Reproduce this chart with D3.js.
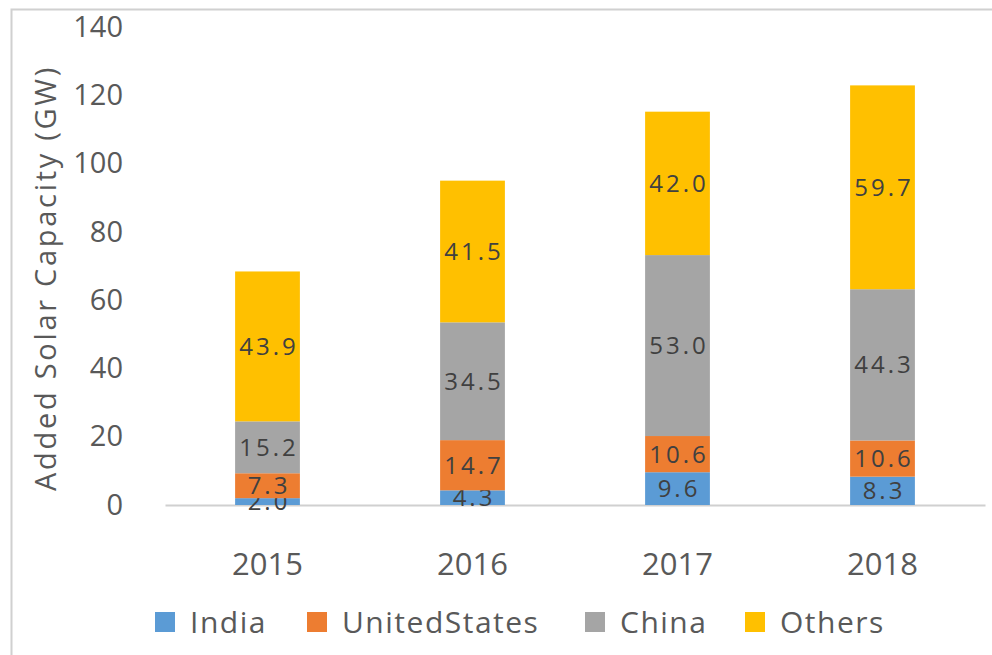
<!DOCTYPE html>
<html>
<head>
<meta charset="utf-8">
<script src="https://cdn.jsdelivr.net/npm/d3@7"></script>
<style>
  body { margin: 0; background: #fff; }
  text { font-family: "Open Sans", "Noto Sans", sans-serif; }
</style>
</head>
<body>
<div id="chart-area"></div>
<script>
// data
var years = ["2015", "2016", "2017", "2018"];
var seriesNames = ["India", "UnitedStates", "China", "Others"];
var india = [2.0, 4.3, 9.6, 8.3];
var unitedStates = [7.3, 14.7, 10.6, 10.6];
var china = [15.2, 34.5, 53.0, 44.3];
var others = [43.9, 41.5, 42.0, 59.7];
var yTicks = [0, 20, 40, 60, 80, 100, 120, 140];
var colors = ["#5b9bd5", "#ed7d31", "#a5a5a5", "#ffc000"];

var svgWidth = 992, svgHeight = 655;
var margin = { left: 165, right: 7, top: 27, bottom: 150 };
var width = svgWidth - margin.left - margin.right,
    height = svgHeight - margin.top - margin.bottom;

var svg = d3.select("#chart-area")
    .append("svg")
        .attr("width", svgWidth)
        .attr("height", svgHeight);

// frame (only top/left edges visible in the picture)
svg.append("rect")
    .attr("x", 11.5)
    .attr("y", 9.5)
    .attr("width", 1100)
    .attr("height", 1100)
    .attr("fill", "none")
    .attr("stroke", "#d0d0d0")
    .attr("stroke-width", 2);

var g = svg.append("g")
    .attr("transform", "translate(" + margin.left + "," + margin.top + ")");

var table = years.map((yr, i) => {
    return { year: yr, India: india[i], UnitedStates: unitedStates[i], China: china[i], Others: others[i] };
});

var stacked = d3.stack().keys(seriesNames)(table);

var x = d3.scaleBand()
    .domain(years)
    .range([0, width])
    .paddingInner(0.684)
    .paddingOuter(0.342);

var y = d3.scaleLinear()
    .domain([0, 140])
    .range([height, 0]);

// Y tick labels
var yAxisCall = d3.axisLeft(y)
    .tickValues(yTicks)
    .tickSize(0)
    .tickPadding(42);
var yAxis = g.append("g")
    .attr("class", "y axis")
    .call(yAxisCall);
yAxis.select(".domain").remove();
yAxis.selectAll("text")
    .attr("font-size", "29px")
    .attr("font-family", "'Open Sans', 'Noto Sans', sans-serif")
    .attr("fill", "#595959");

// X axis
var xAxisCall = d3.axisBottom(x).tickSize(0).tickPadding(48);
var xAxis = g.append("g")
    .attr("class", "x axis")
    .attr("transform", "translate(0," + height + ")")
    .call(xAxisCall);
xAxis.select(".domain")
    .attr("stroke", "#d0d0d0")
    .attr("stroke-width", 2);
xAxis.selectAll("text")
    .attr("font-size", "31px")
    .attr("font-family", "'Open Sans', 'Noto Sans', sans-serif")
    .attr("fill", "#595959");

// bars
var layers = g.selectAll(".layer")
    .data(stacked)
    .enter()
    .append("g")
        .attr("class", "layer")
        .attr("fill", (d, i) => colors[i]);

layers.selectAll("rect")
    .data(d => d)
    .enter()
    .append("rect")
        .attr("x", d => x(d.data.year))
        .attr("y", d => y(d[1]))
        .attr("width", x.bandwidth())
        .attr("height", d => y(d[0]) - y(d[1]));

// data labels
layers.selectAll(".lbl")
    .data(d => d)
    .enter()
    .append("text")
        .attr("class", "lbl")
        .attr("x", d => x(d.data.year) + x.bandwidth() / 2 + 1.5)
        .attr("y", d => (y(d[0]) + y(d[1])) / 2)
        .attr("dy", "0.36em")
        .attr("text-anchor", "middle")
        .attr("font-size", "24px")
        .attr("letter-spacing", "3px")
        .attr("fill", "#404040")
        .text(d => (d[1] - d[0]).toFixed(1));

// Y label
g.append("text")
    .attr("class", "y axis-label")
    .attr("x", -(y(0) + y(140)) / 2 - 12)
    .attr("y", -109)
    .attr("font-size", "29px")
    .attr("letter-spacing", "2.7px")
    .attr("text-anchor", "middle")
    .attr("transform", "rotate(-90)")
    .attr("fill", "#595959")
    .text("Added Solar Capacity (GW)");

// legend
var legendX = [155, 307, 585, 745];
var legend = svg.append("g").attr("class", "legend");
seriesNames.forEach((name, i) => {
    var item = legend.append("g")
        .attr("transform", "translate(" + legendX[i] + ",622)");
    item.append("rect")
        .attr("x", 0)
        .attr("y", -10)
        .attr("width", 20)
        .attr("height", 20)
        .attr("fill", colors[i]);
    item.append("text")
        .attr("x", 35)
        .attr("dy", "0.36em")
        .attr("font-size", "30px")
        .attr("letter-spacing", "1.5px")
        .attr("fill", "#595959")
        .text(name);
});
</script>
</body>
</html>
